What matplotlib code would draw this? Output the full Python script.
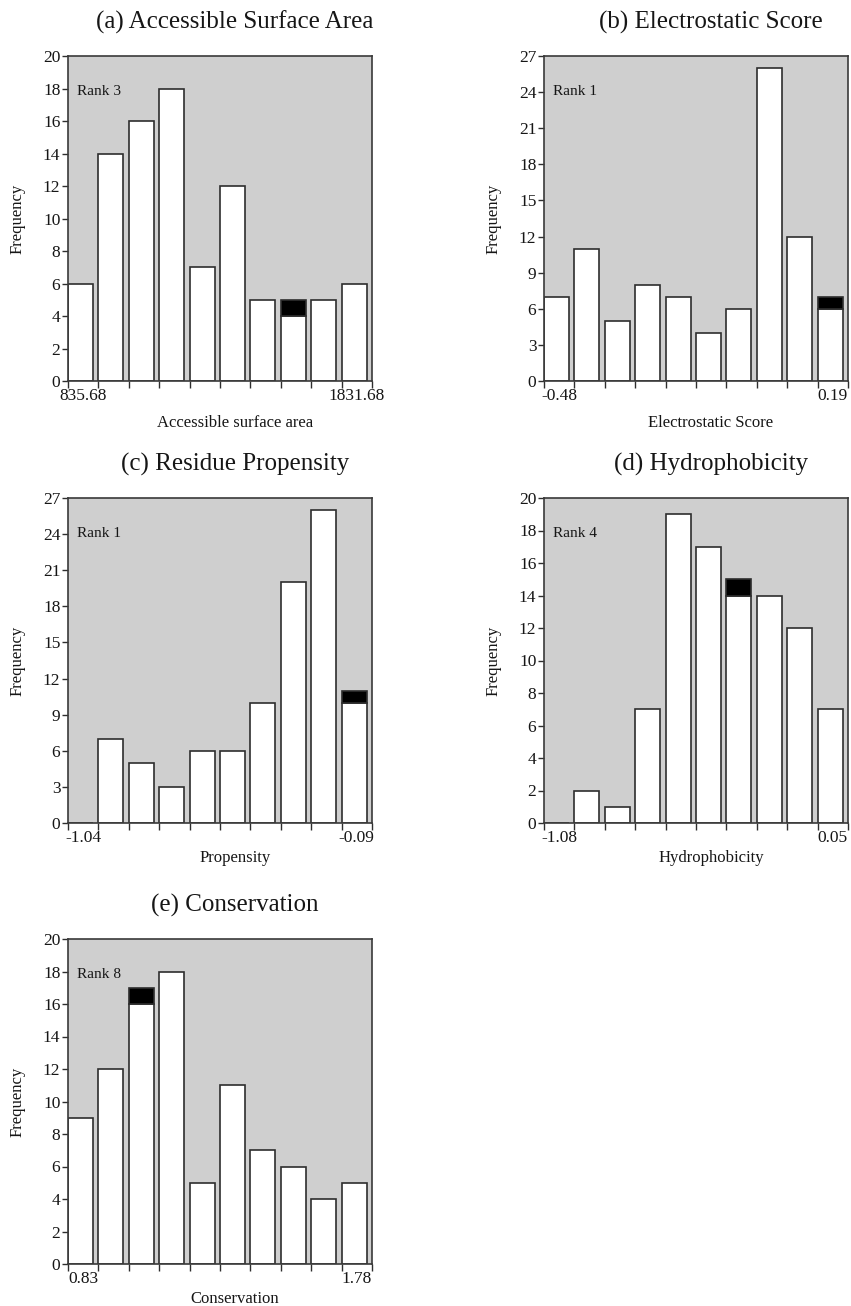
import matplotlib
matplotlib.use("Agg")
import matplotlib.pyplot as plt

plt.rcParams['font.family'] = ['Liberation Serif', 'DejaVu Serif']

# ---- data ----
titles = ["(a) Accessible Surface Area", "(b) Electrostatic Score",
          "(c) Residue Propensity", "(d) Hydrophobicity", "(e) Conservation"]
xlabels = ["Accessible surface area", "Electrostatic Score", "Propensity",
           "Hydrophobicity", "Conservation"]
range_labels = [("835.68", "1831.68"), ("-0.48", "0.19"), ("-1.04", "-0.09"),
                ("-1.08", "0.05"), ("0.83", "1.78")]
ranks = ["Rank 3", "Rank 1", "Rank 1", "Rank 4", "Rank 8"]

asa_counts = [6, 14, 16, 18, 7, 12, 5, 5, 5, 6]
elec_counts = [7, 11, 5, 8, 7, 4, 6, 26, 12, 7]
prop_counts = [0, 7, 5, 3, 6, 6, 10, 20, 26, 11]
hydro_counts = [0, 2, 1, 7, 19, 17, 15, 14, 12, 7]
cons_counts = [9, 12, 17, 18, 5, 11, 7, 6, 4, 5]
all_counts = [asa_counts, elec_counts, prop_counts, hydro_counts, cons_counts]

# bin holding the observed interface (drawn as black top segment of height 1)
highlight_bins = [7, 9, 9, 6, 2]
ymax = [20, 27, 27, 20, 20]
ystep = [2, 3, 3, 2, 2]

# ---- layout ----
W, H = 851, 1306
fig = plt.figure(figsize=(W / 100, H / 100), dpi=100)
fig.patch.set_facecolor('white')

lefts = [68, 544, 68, 544, 68]
tops = [56, 56, 498, 498, 939]
aw, ah = 304, 325
xlabel_gap = [42, 42, 35, 35, 35]

bg = '#cfcfcf'
edge = '#2e2e2e'
txt = '#161616'

for i in range(5):
    ax = fig.add_axes([lefts[i] / W, 1 - (tops[i] + ah) / H, aw / W, ah / H])
    ax.set_facecolor(bg)
    counts = all_counts[i]
    hb = highlight_bins[i]
    n = len(counts)
    xs = list(range(n))
    white = [c - (1 if k == hb else 0) for k, c in enumerate(counts)]
    ax.bar(xs, white, width=0.82, align='edge', color='white',
           edgecolor=edge, linewidth=1.2, zorder=2)
    ax.bar([hb], [1], bottom=[white[hb]], width=0.82, align='edge',
           color='black', edgecolor=edge, linewidth=1.2, zorder=3)

    ax.set_xlim(0, n)
    ax.set_ylim(0, ymax[i])
    ax.set_yticks(range(0, ymax[i] + 1, ystep[i]))
    ax.set_xticks(range(n + 1))
    ax.set_xticklabels([])
    ax.set_xticks([0.5, n - 0.5], minor=True)
    ax.set_xticklabels(list(range_labels[i]), minor=True)
    ax.tick_params(axis='x', which='major', direction='out', length=5,
                   width=1.0, color=edge)
    ax.tick_params(axis='x', which='minor', length=0, pad=5, labelsize=12.5,
                   labelcolor=txt)
    ax.tick_params(axis='y', direction='out', length=4.5, width=1.0,
                   color=edge, pad=1, labelsize=12.5, labelcolor=txt)
    for s in ax.spines.values():
        s.set_color('#3a3a3a')
        s.set_linewidth(1.2)
        s.set_zorder(4)

    ax.set_ylabel("Frequency", fontsize=12, color=txt)
    ax.yaxis.set_label_coords(-50 / aw, 0.5)
    ax.yaxis.label.set_va('center')
    ax.set_xlabel(xlabels[i], fontsize=12, color=txt)
    ax.xaxis.set_label_coords(0.549, -xlabel_gap[i] / ah)
    ax.xaxis.label.set_va('center')

    ax.text(0.549, 1 + 34 / ah, titles[i], transform=ax.transAxes, ha='center',
            va='center', fontsize=18, color=txt)
    ax.text(0.03, 0.89, ranks[i], transform=ax.transAxes, ha='left',
            va='center', fontsize=11, color=txt, zorder=5)

fig.savefig("out.png", dpi=100, facecolor='white')
